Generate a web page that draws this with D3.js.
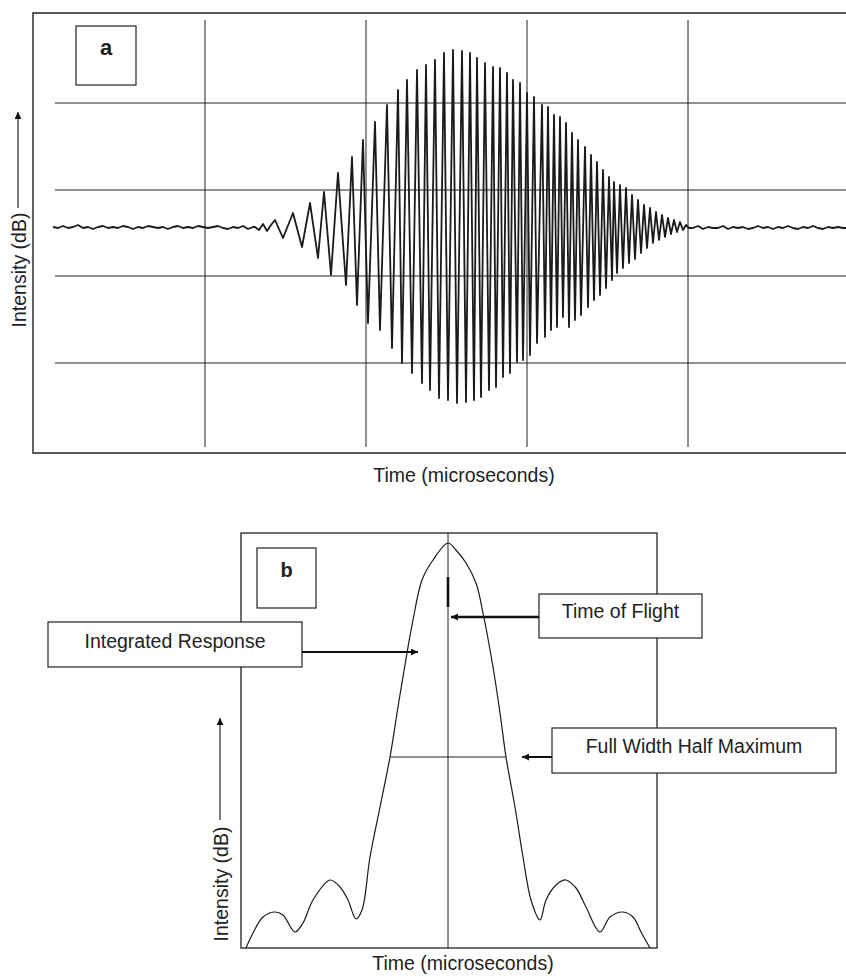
<!doctype html>
<meta charset="utf8">
<style>
  body { margin: 0; background: #fff; }
  svg { display: block; font-family: "Liberation Sans", Arial, sans-serif; }
  .frame, .grid { fill: none; stroke: #222; }
  .signal { fill: none; stroke: #1a1a1a; stroke-linejoin: round; }
  text { fill: #222; }
</style>
<body>
<div id="chart"></div>

<script src="https://d3js.org/d3.v7.min.js"></script>
<script>
(function() {

const WIDTH = 846;
const HEIGHT = 977;

// panel a: time (us) and intensity
const leadNoise = [
  [2.0, 0.6], [2.5, 0.5], [3.0, 0.7], [3.5, 0.5], [4.0, 0.6], [4.5, 0.8], [5.0, 0.5],
  [5.5, 0.6], [6.0, 0.4], [6.5, 0.6], [7.0, 0.7], [7.5, 0.5], [8.0, 0.6], [8.5, 0.5],
  [9.0, 0.7], [9.5, 0.6], [10.0, 0.4], [10.5, 0.6], [11.0, 0.5], [11.5, 0.7], [12.0, 0.6],
  [12.5, 0.5], [13.0, 0.6], [13.5, 0.4], [14.0, 0.6], [14.5, 0.7], [15.0, 0.5], [15.5, 0.6],
  [16.0, 0.5], [16.5, 0.7], [17.0, 0.6], [17.5, 0.5], [18.0, 0.6], [18.5, 0.7], [19.0, 0.5],
  [19.5, 0.4], [20.0, 0.6], [20.5, 0.5], [21.0, 0.7], [21.5, 0.4], [22.0, 0.6],
];

const burst = [
  [22.2, 0.6], [22.6, 0.3], [23.0, 0.9], [23.4, 0.2], [23.8, 0.8],
  [24.2, 1.3], [25.0, -0.5], [26.0, 2.0], [26.9, -1.4], [27.7, 3.0], [28.5, -2.5],
  [29.1, 4.1], [29.8, -4.2], [30.5, 6.0], [31.3, -5.2], [31.9, 7.6], [32.4, -7.2],
  [33.0, 9.3], [33.5, -9.0], [34.2, 11.1], [34.7, -9.7], [35.4, 12.8], [35.9, -11.5],
  [36.5, 14.3], [36.9, -13.0], [37.4, 15.3], [37.9, -14.0], [38.4, 16.3], [38.9, -15.0],
  [39.3, 16.8], [39.7, -15.7], [40.2, 17.3], [40.6, -16.5], [41.1, 18.0], [41.5, -16.7],
  [42.0, 18.3], [42.4, -17.0], [42.9, 18.2], [43.3, -16.9], [43.7, 18.0], [44.1, -16.7],
  [44.4, 17.5], [44.8, -16.4], [45.2, 17.0], [45.6, -15.7], [46.0, 16.6], [46.3, -15.4],
  [46.7, 16.5], [47.0, -14.4], [47.4, 16.0], [47.7, -14.0], [48.0, 15.3], [48.4, -12.9],
  [48.7, 15.0], [49.0, -12.7], [49.4, 14.0], [49.7, -12.2], [50.1, 13.6], [50.4, -11.0],
  [50.9, 12.8], [51.2, -10.4], [51.5, 12.6], [51.8, -9.7], [52.1, 11.8], [52.4, -9.4],
  [52.7, 11.6], [53.0, -8.4], [53.3, 11.0], [53.6, -9.4], [53.9, 10.0], [54.2, -8.7],
  [54.5, 9.3], [54.8, -8.2], [55.2, 8.6], [55.5, -7.4], [55.8, 7.8], [56.1, -6.7],
  [56.4, 7.1], [56.7, -6.2], [57.0, 6.3], [57.3, -5.5], [57.6, 5.6], [57.9, -4.7],
  [58.1, 5.1], [58.4, -4.0], [58.7, 4.8], [59.0, -3.5], [59.3, 4.5], [59.6, -3.0],
  [59.9, 3.8], [60.2, -2.6], [60.5, 3.3], [60.8, -2.0], [61.1, 2.8], [61.4, -1.5],
  [61.7, 2.5], [62.0, -1.0], [62.3, 2.1], [62.6, -0.7], [62.9, 1.8], [63.2, -0.4],
  [63.5, 1.5], [63.8, -0.1], [64.1, 1.3], [64.4, 0.1], [64.7, 1.1], [65.0, 0.3],
  [65.3, 0.8], [65.6, 0.5],
];

const tailNoise = [
  [66.0, 0.5], [66.5, 0.7], [67.0, 0.4], [67.5, 0.6], [68.0, 0.5], [68.5, 0.5], [69.0, 0.7],
  [69.5, 0.4], [70.0, 0.6], [70.5, 0.5], [71.0, 0.6], [71.5, 0.4], [72.0, 0.5], [72.5, 0.7],
  [73.0, 0.5], [73.5, 0.6], [74.0, 0.4], [74.5, 0.6], [75.0, 0.5], [75.5, 0.7], [76.0, 0.5],
  [76.5, 0.4], [77.0, 0.6], [77.5, 0.5], [78.0, 0.7], [78.5, 0.5], [79.0, 0.4], [79.5, 0.6],
  [80.0, 0.5], [80.5, 0.6], [81.0, 0.5], [81.3, 0.5],
];

const gridTimesA = [17.2, 33.3, 49.4, 65.5];
const gridLevelsA = [13, 4.3, -4.3, -13];

// panel b: integrated response, time relative to time of flight
const response = [
  [-20.2, 0.0], [-19.5, 1.5], [-18.5, 3.1], [-17.3, 3.6], [-16.5, 3.3], [-15.3, 1.6],
  [-14.5, 2.5], [-13.5, 4.8], [-11.8, 6.8], [-10.8, 6.1], [-10.0, 4.8], [-9.2, 2.9],
  [-8.6, 3.8], [-7.8, 9.1], [-6.8, 14.1], [-5.8, 19.1], [-5.0, 24.1], [-4.1, 29.5],
  [-3.5, 32.8], [-2.6, 36.8], [-1.5, 38.8], [0.0, 40.5], [0.8, 39.8], [1.8, 38.5],
  [2.8, 36.5], [3.5, 33.5], [4.5, 28.1], [5.2, 23.5], [5.8, 19.1], [6.7, 14.1],
  [7.5, 9.1], [8.3, 4.8], [9.2, 2.8], [9.8, 4.8], [10.8, 6.3], [11.8, 6.8],
  [12.8, 6.0], [13.8, 4.1], [15.2, 1.6], [16.2, 3.1], [17.5, 3.6], [18.5, 3.1],
  [19.3, 1.6], [20.2, 0.0],
];

const timeOfFlight = 0;
const halfMax = [-5.8, 5.8, 19.1];

const svg = d3.select("#chart").append("svg")
  .attr("width", WIDTH)
  .attr("height", HEIGHT);

svg.append("defs").append("marker")
  .attr("id", "head")
  .attr("viewBox", "0 0 10 10")
  .attr("refX", 10)
  .attr("refY", 5)
  .attr("markerUnits", "userSpaceOnUse")
  .attr("markerWidth", 9)
  .attr("markerHeight", 7)
  .attr("orient", "auto")
  .append("path")
    .attr("d", "M0,0L10,5L0,10Z")
    .attr("fill", "#111");

function arrow(g, x1, y1, x2, y2, w) {
  g.append("line")
    .attr("x1", x1).attr("y1", y1)
    .attr("x2", x2).attr("y2", y2)
    .attr("stroke", "#111")
    .attr("stroke-width", w || 1.2)
    .attr("marker-end", "url(#head)");
}

function labelBox(g, x, y, w, h, text, baseline, opts) {
  opts = opts || {};
  g.append("rect")
    .attr("x", x).attr("y", y)
    .attr("width", w).attr("height", h)
    .attr("fill", "#fff")
    .attr("stroke", "#222")
    .attr("stroke-width", 1.2);
  g.append("text")
    .attr("x", opts.cx || x + w / 2)
    .attr("y", baseline)
    .attr("text-anchor", "middle")
    .attr("font-size", opts.size || 19.5)
    .attr("font-weight", opts.bold ? "bold" : "normal")
    .text(text);
}

function yLabel(g, x, cy, tipY, lineY) {
  g.append("text")
    .attr("transform", `translate(${x},${cy}) rotate(-90)`)
    .attr("text-anchor", "middle")
    .attr("font-size", 19.5)
    .text("Intensity (dB)");
  arrow(g, x - 8, lineY, x - 8, tipY, 1.1);
}

function renderPanelA() {
  const g = svg.append("g");
  const x = d3.scaleLinear().domain([0, 81.3]).range([33, 846]);
  const y = d3.scaleLinear().domain([-22, 22]).range([453, 13]);

  g.selectAll(".vgrid")
    .data(gridTimesA)
    .join("line")
      .attr("class", "grid")
      .attr("x1", d => x(d)).attr("x2", d => x(d))
      .attr("y1", y(21.3)).attr("y2", y(-21.4));

  g.selectAll(".hgrid")
    .data(gridLevelsA)
    .join("line")
      .attr("class", "grid")
      .attr("x1", x(2.2)).attr("x2", x(81.3))
      .attr("y1", d => y(d)).attr("y2", d => y(d));

  g.append("path")
    .attr("class", "frame")
    .attr("stroke-width", 1.4)
    .attr("d", `M${x(81.3)},${y(22)}H${x(0)}V${y(-22)}H${x(81.3)}`);

  const line = d3.line()
    .x(d => x(d[0]))
    .y(d => y(d[1]));

  g.append("path")
    .datum([...leadNoise, ...burst, ...tailNoise])
    .attr("class", "signal")
    .attr("stroke-width", 1.8)
    .attr("d", line);

  labelBox(g, 76, 26, 60, 59, "a", 55, {size: 22, bold: true});

  g.append("text")
    .attr("x", 464)
    .attr("y", 482)
    .attr("text-anchor", "middle")
    .attr("font-size", 19.5)
    .text("Time (microseconds)");

  yLabel(g, 26, 270, 112, 208);
}

function renderPanelB() {
  const g = svg.append("g");
  const x = d3.scaleLinear().domain([-20.7, 20.9]).range([241, 657]);
  const y = d3.scaleLinear().domain([0, 41.5]).range([948, 533]);

  g.append("rect")
    .attr("class", "frame")
    .attr("stroke-width", 1.3)
    .attr("x", x(-20.7)).attr("y", y(41.5))
    .attr("width", x(20.9) - x(-20.7))
    .attr("height", y(0) - y(41.5));

  g.append("line")
    .attr("class", "grid")
    .attr("x1", x(timeOfFlight)).attr("x2", x(timeOfFlight))
    .attr("y1", y(41.5)).attr("y2", y(0));

  g.append("line")
    .attr("stroke", "#111")
    .attr("stroke-width", 2.6)
    .attr("x1", x(timeOfFlight)).attr("x2", x(timeOfFlight))
    .attr("y1", y(37.1)).attr("y2", y(34.1));

  g.append("line")
    .attr("class", "grid")
    .attr("x1", x(halfMax[0])).attr("x2", x(halfMax[1]))
    .attr("y1", y(halfMax[2])).attr("y2", y(halfMax[2]));

  const line = d3.line()
    .curve(d3.curveCatmullRom.alpha(0.5))
    .x(d => x(d[0]))
    .y(d => y(d[1]));

  g.append("path")
    .datum(response)
    .attr("class", "signal")
    .attr("stroke-width", 1.2)
    .attr("d", line);

  labelBox(g, 257, 548, 59, 60, "b", 577, {size: 20, bold: true});

  labelBox(g, 48, 622, 254, 45, "Integrated Response", 648);
  arrow(g, 302, 652, x(-3.0), 652, 2);

  labelBox(g, 539, 594, 163, 44, "Time of Flight", 618);
  arrow(g, 539, 617, x(0.3), 617, 2.4);

  labelBox(g, 552, 728, 284, 45, "Full Width Half Maximum", 753);
  arrow(g, 552, y(halfMax[2]), x(7.4), y(halfMax[2]), 2);

  g.append("text")
    .attr("x", 463)
    .attr("y", 970)
    .attr("text-anchor", "middle")
    .attr("font-size", 19.5)
    .text("Time (microseconds)");

  yLabel(g, 228, 884, 718, 820);
}

renderPanelA();
renderPanelB();

})();
</script>
